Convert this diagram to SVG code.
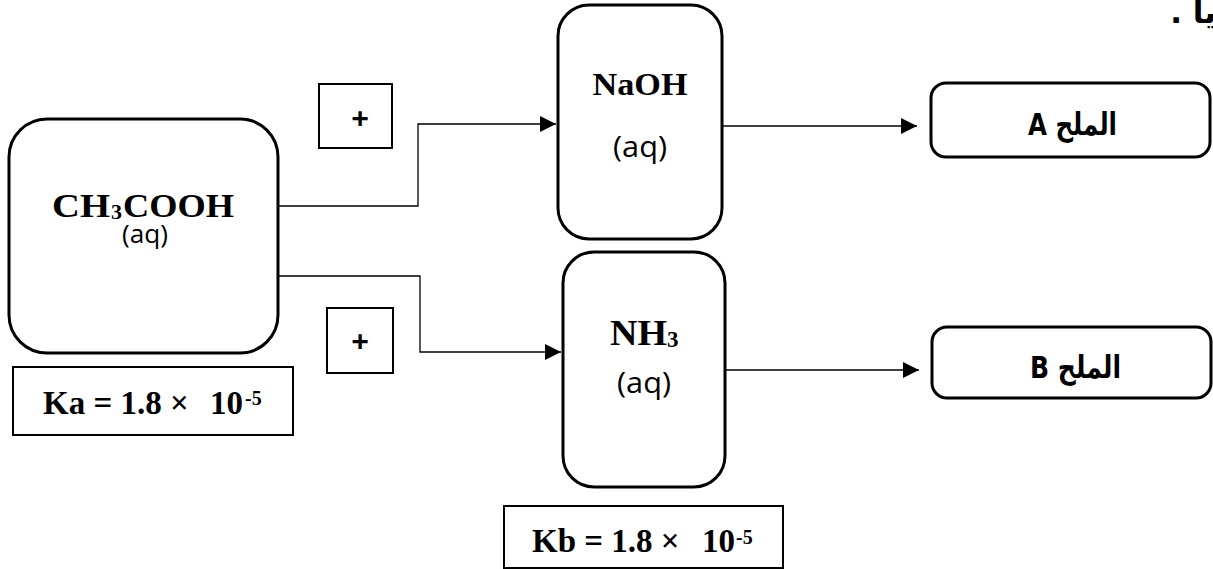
<svg xmlns="http://www.w3.org/2000/svg" width="1213" height="569" viewBox="0 0 1213 569">
<style>
.node{fill:#fff;stroke:#000;stroke-width:3}
.thin{fill:#fff;stroke:#000;stroke-width:2}
.conn{fill:none;stroke:#000;stroke-width:1.3}
.tnr{font-family:"Liberation Serif","Times New Roman",serif;font-weight:bold;fill:#000}
.sans{font-family:"Open Sans","Liberation Sans",sans-serif;fill:#000}
.ar{font-family:"DejaVu Sans","Noto Sans",sans-serif;font-weight:bold;fill:#000}
</style>
<defs>
<marker id="arr" markerUnits="userSpaceOnUse" markerWidth="16" markerHeight="16" refX="16" refY="8" orient="auto">
<path d="M0,0 L16,8 L0,16 z" fill="#000"/>
</marker>
</defs>
<rect width="1213" height="569" fill="#fff"/>
<text class="ar" x="1216" y="23" font-size="31" direction="rtl" text-anchor="start">يا .</text>
<g id="connectors">
<path class="conn" d="M278,206 H418 V124 H556" marker-end="url(#arr)"/>
<path class="conn" d="M278,276 H420 V352 H561" marker-end="url(#arr)"/>
<path class="conn" d="M722,126 H917" marker-end="url(#arr)"/>
<path class="conn" d="M725,370 H919" marker-end="url(#arr)"/>
</g>
<g id="ch3cooh">
<rect class="node" x="9" y="119" width="269" height="234" rx="38"/>
<text class="tnr" font-size="34"><tspan x="52" y="217" textLength="58" lengthAdjust="spacingAndGlyphs">CH</tspan><tspan x="111" y="219" font-size="22">3</tspan><tspan x="123" y="217" textLength="111" lengthAdjust="spacingAndGlyphs">COOH</tspan></text>
<text class="sans" x="145" y="243" font-size="25" text-anchor="middle" textLength="46" lengthAdjust="spacingAndGlyphs">(aq)</text>
</g>
<g id="ka">
<rect class="thin" x="13" y="367" width="280" height="68"/>
<text class="tnr" font-size="33"><tspan x="43" y="414">Ka = 1.8 ×</tspan><tspan x="210" y="414">10</tspan><tspan x="245" y="405" font-size="20">-5</tspan></text>
</g>
<g id="plus1">
<rect class="thin" x="319" y="84" width="73" height="64"/>
<text class="sans" x="360" y="129" font-size="31" font-weight="bold" text-anchor="middle">+</text>
</g>
<g id="plus2">
<rect class="thin" x="327" y="308" width="66" height="65"/>
<text class="sans" x="360" y="352" font-size="31" font-weight="bold" text-anchor="middle">+</text>
</g>
<g id="naoh">
<rect class="node" x="558" y="5" width="164" height="234" rx="31"/>
<text class="tnr" x="640" y="95" font-size="32" text-anchor="middle" textLength="95" lengthAdjust="spacingAndGlyphs">NaOH</text>
<text class="sans" x="640" y="157" font-size="29" text-anchor="middle" textLength="54" lengthAdjust="spacingAndGlyphs">(aq)</text>
</g>
<g id="nh3">
<rect class="node" x="563" y="252" width="162" height="235" rx="31"/>
<text class="tnr" font-size="35"><tspan x="610" y="345" textLength="57" lengthAdjust="spacingAndGlyphs">NH</tspan><tspan x="667" y="347" font-size="23">3</tspan></text>
<text class="sans" x="644" y="393" font-size="29" text-anchor="middle" textLength="54" lengthAdjust="spacingAndGlyphs">(aq)</text>
</g>
<g id="kb">
<rect class="thin" x="504" y="506" width="279" height="62"/>
<text class="tnr" font-size="33"><tspan x="532" y="552">Kb = 1.8 ×</tspan><tspan x="702" y="552">10</tspan><tspan x="736" y="544" font-size="20">-5</tspan></text>
</g>
<g id="saltA">
<rect class="node" x="931" y="83" width="279" height="74" rx="15"/>
<text class="ar" x="1028" y="135" font-size="31" textLength="89" lengthAdjust="spacingAndGlyphs" direction="rtl" unicode-bidi="embed" text-anchor="end">الملح A</text>
</g>
<g id="saltB">
<rect class="node" x="932" y="327" width="279" height="71" rx="15"/>
<text class="ar" x="1030" y="378" font-size="31" textLength="91" lengthAdjust="spacingAndGlyphs" direction="rtl" unicode-bidi="embed" text-anchor="end">الملح B</text>
</g>
</svg>
